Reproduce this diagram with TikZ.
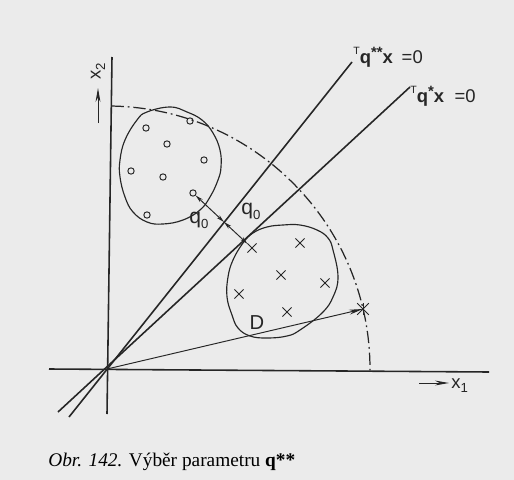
\documentclass[tikz,border=0pt]{standalone}
\usepackage{fontspec}
\setmainfont{Liberation Serif}
\setsansfont{Liberation Sans}
\usetikzlibrary{arrows.meta,shapes.misc}
\newcommand{\lowidx}[1]{\raisebox{-0.45ex}{\fontsize{7.5}{8}\selectfont #1}}
\newcommand{\upidx}[1]{\raisebox{0.85ex}{\fontsize{6}{7}\selectfont #1}}
\newcommand{\starsup}[1]{\raisebox{0.55ex}{\fontsize{8.5}{9}\selectfont\bfseries #1}}
\begin{document}
\begin{tikzpicture}[x=0.02cm,y=-0.02cm,
  ink/.style={draw=black!85},
  axisline/.style={ink, line width=0.9pt},
  sepline/.style={ink, line width=0.9pt},
  blob/.style={ink, line width=0.65pt},
  odot/.style={circle, draw=black!85, line width=0.55pt, inner sep=0pt, minimum size=3.6pt},
  xmark/.style={cross out, draw=black!85, line width=0.55pt, inner sep=0pt, minimum size=4.6pt},
  dashdotline/.style={ink, line width=0.7pt, dash pattern=on 7pt off 2.2pt on 1pt off 2.2pt},
  longtip/.style={-{Stealth[length=8pt,width=2.8pt]}},
  qarrow/.style={ink, line width=0.55pt, {Stealth[length=4.5pt,width=2.2pt]}-{Stealth[length=4.5pt,width=2.2pt]}},
  lbl/.style={font=\sffamily\fontsize{10.5}{12}\selectfont, text=black!85, inner sep=0pt}
]
\fill[black!8] (0,0) rectangle (514,480);
\useasboundingbox (0,0) rectangle (514,480);

% key points
\coordinate (O) at (107,369);
\coordinate (x1L) at (49,369);
\coordinate (x1R) at (489,372);
\coordinate (x2B) at (107,414);
\coordinate (x2T) at (112,57);
\coordinate (qssB) at (69,417);
\coordinate (qssT) at (352,62);
\coordinate (qsB) at (58,412);
\coordinate (qsT) at (410,87);
\coordinate (S) at (363,309);
\coordinate (M) at (224,222);

% axes
\draw[axisline] (x1L) -- (x1R);
\draw[axisline] (x2B) -- (x2T);

% separating lines
\draw[sepline] (qssB) -- (qssT);
\draw[sepline] (qsB) -- (qsT);

% dash-dot arc
\draw[dashdotline] (O) ++(-89:263) arc[start angle=-89, end angle=0.3, radius=263];

% class regions
\draw[blob] plot[smooth cycle, tension=0.7] coordinates {(147,112) (170,107) (187,112) (202,120) (213,133) (220,150) (221,167) (218,180) (210,197) (200,210) (183,220) (163,224) (147,222) (133,212) (125,197) (120,177) (120,160) (125,140) (137,120)};
\draw[blob] plot[smooth cycle, tension=0.7] coordinates {(243,243) (253,233) (267,227) (283,225) (300,225) (317,230) (328,238) (333,250) (338,277) (333,297) (322,313) (300,330) (287,336) (267,338) (250,336) (238,328) (232,315) (227,297) (228,277) (233,260)};

% circles
\node[odot] (c1) at (146,128) {};
\node[odot] (c2) at (167,144) {};
\node[odot] (c3) at (190,121) {};
\node[odot] (c4) at (204,160) {};
\node[odot] (c5) at (131,171) {};
\node[odot] (c6) at (163,177) {};
\node[odot] (c7) at (193,193) {};
\node[odot] (c8) at (147,215) {};

% crosses
\node[xmark] (k1) at (252,248) {};
\node[xmark] (k2) at (300,243) {};
\node[xmark] (k3) at (281,275) {};
\node[xmark] (k4) at (325,283) {};
\node[xmark] (k5) at (239,294) {};
\node[xmark] (k6) at (287,312) {};

% star point and vector
\node[xmark, minimum size=6pt] (star) at (S) {};
\draw[ink, line width=0.55pt] (star.north) -- (star.south);
\draw[ink, line width=0.55pt, longtip] (O) -- (S);

% q0 distances
\draw[qarrow] (c7) -- (M);
\draw[qarrow] (M) -- (k1);
\node[lbl, font=\sffamily\fontsize{12}{14}\selectfont] (q0a) at (199,220) {q\lowidx{0}};
\node[lbl, font=\sffamily\fontsize{12}{14}\selectfont] (q0b) at (251,211) {q\lowidx{0}};

% D
\node[lbl, font=\sffamily\fontsize{11.5}{13}\selectfont] (D) at (257,323) {D};

% line labels
\node[lbl, anchor=base west] (Lss) at (353,63) {\upidx{T}\textbf{q}\starsup{**}\textbf{x}\hspace{5pt}=0};
\node[lbl, anchor=base west] (Ls) at (410,102) {\upidx{T}\textbf{q}\starsup{*}\textbf{x}\hspace{6pt}=0};

% axis labels
\coordinate (a1s) at (419,383);
\coordinate (a1e) at (449,383);
\draw[ink, line width=0.55pt, longtip] (a1s) -- (a1e);
\node[lbl, anchor=base west] (x1lab) at (451,388) {x\lowidx{1}};
\coordinate (a2s) at (98,123);
\coordinate (a2e) at (98,88);
\draw[ink, line width=0.55pt, longtip] (a2s) -- (a2e);
\node[lbl, rotate=90] (x2lab) at (98,71) {x\lowidx{2}};

% caption
\node[anchor=base west, inner sep=0pt, font=\fontsize{11}{13}\selectfont] (cap) at (48,466) {\textit{Obr. 142.} Výběr parametru \textbf{q**}};
\end{tikzpicture}
\end{document}
